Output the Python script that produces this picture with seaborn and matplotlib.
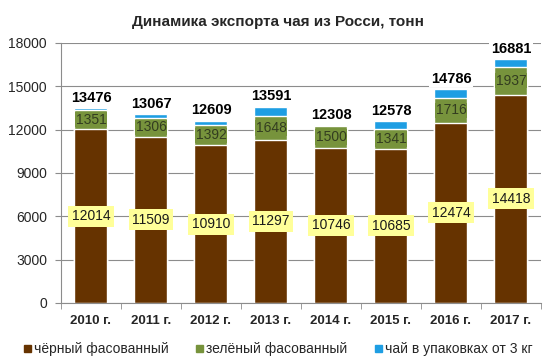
import numpy as np
import pandas as pd
import matplotlib
matplotlib.use("Agg")
import matplotlib.pyplot as plt
import seaborn as sns
from matplotlib.patches import Patch

years = ["2010 г.", "2011 г.", "2012 г.", "2013 г.", "2014 г.", "2015 г.", "2016 г.", "2017 г."]
black = [12014, 11509, 10910, 11297, 10746, 10685, 12474, 14418]
green = [1351, 1306, 1392, 1648, 1500, 1341, 1716, 1937]
bulk = [111, 252, 307, 646, 62, 552, 596, 526]
totals = [13476, 13067, 12609, 13591, 12308, 12578, 14786, 16881]

c_black = "#663300"
c_green = "#77933C"
c_blue = "#1E9EE3"

sns.set_style("white")
plt.rcParams["font.family"] = ["Liberation Sans", "DejaVu Sans"]

df = pd.DataFrame({"year": years, "black": black, "green": green, "bulk": bulk})
df["lvl2"] = df["black"] + df["green"]
df["lvl3"] = df["lvl2"] + df["bulk"]

fig = plt.figure(figsize=(5.56, 3.64), dpi=100)
ax = fig.add_axes([0.1097, 0.1676, 0.8633, 0.7144])

# stacked bars drawn as overlapping layers
sns.barplot(data=df, x="year", y="lvl3", color=c_blue, width=0.55, saturation=1, ax=ax, zorder=2)
sns.barplot(data=df, x="year", y="lvl2", color=c_green, width=0.55, saturation=1, ax=ax, zorder=2)
sns.barplot(data=df, x="year", y="black", color=c_black, width=0.55, saturation=1, ax=ax, zorder=2)

ax.set_ylim(0, 18000)
ax.set_xlim(-0.5, len(years) - 0.5)
ax.set_yticks(np.arange(0, 18001, 3000))
ax.yaxis.grid(True, color="#8c8c8c", linewidth=0.8, zorder=0)
ax.set_axisbelow(True)
ax.set_xlabel("")
ax.set_ylabel("")

for s in ["top", "right"]:
    ax.spines[s].set_visible(False)
for s in ["left", "bottom"]:
    ax.spines[s].set_color("#8c8c8c")
    ax.spines[s].set_linewidth(0.8)

ax.tick_params(axis="y", length=4, color="#8c8c8c", labelsize=10, pad=6, left=True)
ax.set_xticks(np.arange(len(years)))
ax.set_xticklabels(years, fontweight="bold", fontsize=9.5)
ax.tick_params(axis="x", length=0, pad=9)
ax.set_xticks(np.arange(len(years) + 1) - 0.5, minor=True)
ax.tick_params(axis="x", which="minor", length=4, color="#8c8c8c", bottom=True)

for i in range(len(years)):
    ax.text(i, black[i] / 2, str(black[i]), ha="center", va="center", fontsize=10,
            color="#1a1a1a", zorder=5,
            bbox=dict(boxstyle="square,pad=0.25", fc="#FFFF99", ec="none"))
    ax.text(i, black[i] + green[i] / 2, str(green[i]), ha="center", va="center", fontsize=10,
            color="#333d20", zorder=5,
            bbox=dict(boxstyle="square,pad=0.05", fc=c_green, ec="none"))
    ax.text(i, totals[i] + 720, str(totals[i]), ha="center", va="center", fontsize=10.5,
            fontweight="bold", color="black", zorder=5,
            bbox=dict(boxstyle="square,pad=0.1", fc="white", ec="none"))

fig.suptitle("Динамика экспорта чая из Росси, тонн", y=0.96, fontsize=11, fontweight="bold")

handles = [Patch(color=c_black), Patch(color=c_green), Patch(color=c_blue)]
labels = ["чёрный фасованный", "зелёный фасованный", "чай в упаковках от 3 кг"]
fig.legend(handles, labels, loc="center", bbox_to_anchor=(0.5, 0.04), ncol=3, frameon=False,
           fontsize=10, handlelength=0.5, handleheight=0.5, handletextpad=0.2, columnspacing=2.0)

fig.savefig("out.png", dpi=100)
